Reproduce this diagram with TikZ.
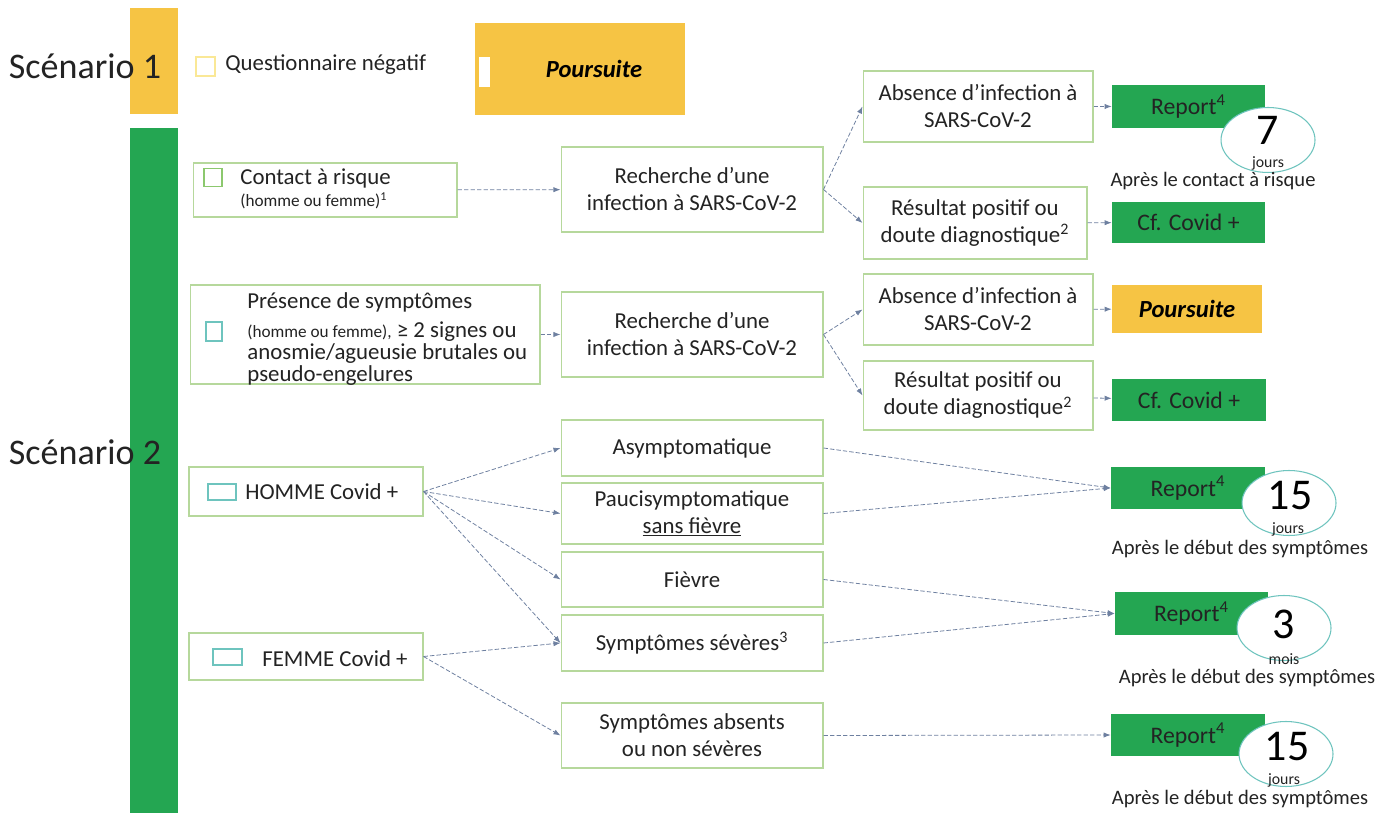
\documentclass[tikz,border=0pt]{standalone}
\usepackage{fontspec}
\setmainfont{Carlito}
\usetikzlibrary{shapes.geometric,arrows.meta}
\definecolor{jaune}{RGB}{246,196,68}
\definecolor{vert}{RGB}{36,166,82}
\definecolor{bordvert}{RGB}{182,216,156}
\definecolor{fleche}{RGB}{110,128,160}
\definecolor{sarcelle}{RGB}{110,196,190}
\definecolor{cochejaune}{RGB}{250,232,150}
\definecolor{cocheverte}{RGB}{140,200,110}
\definecolor{texte}{RGB}{35,35,35}
\tikzset{
  box/.style={draw=bordvert, fill=white, line width=0.6pt, inner sep=0pt, align=center, text=texte, font=\fontsize{13}{15.4}\selectfont},
  res/.style={fill=vert, inner sep=0pt, text=texte, font=\fontsize{13.5}{15}\selectfont},
  jaunebox/.style={fill=jaune, inner sep=0pt, text=black, font=\fontsize{14}{15}\selectfont\bfseries\itshape},
  coche/.style={draw=#1, line width=0.6pt, fill=white, inner sep=0pt},
  lien/.style={draw=fleche, line width=0.45pt, dash pattern=on 2.5pt off 1.2pt, -{Latex[length=4pt,width=3pt]}},
  delai/.style={ellipse, draw=sarcelle, fill=white, line width=0.6pt, inner sep=0pt, minimum width=1.88cm, minimum height=1.3cm},
  nombre/.style={font=\fontsize{25}{25}\selectfont, text=black, inner sep=0pt},
  unite/.style={font=\fontsize{9}{9}\selectfont, text=texte, inner sep=0pt},
  apres/.style={font=\fontsize{11.7}{12}\selectfont, text=texte, inner sep=0pt},
  scen/.style={font=\fontsize{20.5}{22}\selectfont, text=texte, inner sep=0pt},
  libre/.style={font=\fontsize{13}{15}\selectfont, text=texte, inner sep=0pt, anchor=west}
}
\begin{document}
\begin{tikzpicture}[x=0.02cm,y=-0.02cm]
\useasboundingbox (0,0) rectangle (1392,813);
% bandes des scenarios
\fill[jaune] (130,8) rectangle (178,114);
\fill[vert] (130,128) rectangle (178,813);
\node[scen] (sc1) at (85,66) {Scénario 1};
\node[scen] (sc2) at (85,452) {Scénario 2};

% scenario 1
\node[coche=cochejaune, minimum size=0.38cm] (cq) at (205.5,66.5) {};
\node[libre] (quest) at (225,65) {Questionnaire négatif};
\node[jaunebox, minimum width=4.2cm, minimum height=1.84cm] (pours1) at (580,69) {\hspace*{0.56cm}Poursuite};
\fill[white] (479,57) rectangle (490,87);

% contact a risque
\node[box, minimum width=5.28cm, minimum height=1.08cm] (contact) at (325,190) {};
\node[coche=cocheverte, minimum size=0.36cm] (cc) at (213,177.5) {};
\node[libre] (contact1) at (240,178) {Contact à risque};
\node[libre, font=\fontsize{9.8}{11}\selectfont] (contact2) at (240,201) {(homme ou femme)\textsuperscript{1}};
\node[box, minimum width=5.24cm, minimum height=1.7cm] (rech1) at (692,189.5) {Recherche d’une\\infection à SARS-CoV-2};
\node[box, minimum width=4.6cm, minimum height=1.42cm] (abs1) at (978,106.5) {Absence d’infection à\\SARS-CoV-2};
\node[box, minimum width=4.48cm, minimum height=1.44cm] (pos1) at (975,223) {Résultat positif ou\\doute diagnostique\textsuperscript{2}};
\node[res, minimum width=3.06cm, minimum height=0.86cm] (rep1) at (1188.5,106.5) {Report\textsuperscript{4}};
\node[res, minimum width=3.06cm, minimum height=0.82cm] (cov1) at (1188.5,222.5) {Cf. Covid +};
\node[delai] (el1) at (1268,140) {};
\node[nombre] (n1) at (1268,130) {7};
\node[unite] (u1) at (1268,163) {jours};
\node[apres] (a1) at (1213,181) {Après le contact à risque};

\draw[lien] (contact) -- (rech1);
\draw[lien] (rech1.east) -- (abs1.west);
\draw[lien] (rech1.east) -- (pos1.west);
\draw[lien] (abs1) -- (rep1);
\draw[lien] (pos1) -- (cov1);

% symptomes
\node[box, minimum width=7cm, minimum height=1.98cm] (pres) at (365,334.5) {};
\node[coche=sarcelle, minimum width=0.32cm, minimum height=0.38cm] (cp) at (214,331.5) {};
\node[libre, align=left, font=\fontsize{13}{12.3}\selectfont] (prestexte) at (247,339) {Présence de symptômes\\[4.2pt]{\fontsize{9.8}{11}\selectfont(homme ou femme),} ≥ 2 signes ou\\anosmie/agueusie brutales ou\\pseudo-engelures};
\node[box, minimum width=5.24cm, minimum height=1.7cm] (rech2) at (692,334.5) {Recherche d’une\\infection à SARS-CoV-2};
\node[box, minimum width=4.6cm, minimum height=1.42cm] (abs2) at (978,309.5) {Absence d’infection à\\SARS-CoV-2};
\node[box, minimum width=4.6cm, minimum height=1.38cm] (pos2) at (978,395.5) {Résultat positif ou\\doute diagnostique\textsuperscript{2}};
\node[jaunebox, minimum width=3cm, minimum height=0.96cm] (pours2) at (1187,309) {Poursuite};
\node[res, minimum width=3.08cm, minimum height=0.84cm] (cov2) at (1189,400) {Cf. Covid +};

\draw[lien] (pres) -- (rech2);
\draw[lien] (rech2.east) -- (abs2.west);
\draw[lien] (rech2.east) -- (pos2.west);
\draw[lien] (abs2) -- (pours2);
\draw[lien] (pos2) -- (cov2);

% covid +
\node[box, minimum width=4.68cm, minimum height=0.98cm] (homme) at (306,491.5) {};
\node[coche=sarcelle, minimum width=0.56cm, minimum height=0.32cm] (ch) at (222,492) {};
\node[libre] (hommetexte) at (245,492) {HOMME Covid +};
\node[box, minimum width=4.68cm, minimum height=0.94cm] (femme) at (306,656.5) {};
\node[coche=sarcelle, minimum width=0.58cm, minimum height=0.32cm] (cf) at (227.5,657) {};
\node[libre] (femmetexte) at (262,659) {FEMME Covid +};

\node[box, minimum width=5.24cm, minimum height=1.12cm] (asym) at (692,448) {Asymptomatique};
\node[box, minimum width=5.24cm, minimum height=1.22cm] (pauci) at (692,513.5) {Paucisymptomatique\\\underline{sans fièvre}};
\node[box, minimum width=5.24cm, minimum height=1.1cm] (fievre) at (692,579.5) {Fièvre};
\node[box, minimum width=5.24cm, minimum height=1.12cm] (severe) at (692,643) {Symptômes sévères\textsuperscript{3}};
\node[box, minimum width=5.24cm, minimum height=1.3cm] (absent) at (692,735.5) {Symptômes absents\\ou non sévères};

\node[res, minimum width=3.08cm, minimum height=0.84cm] (rep2) at (1188,488) {Report\textsuperscript{4}};
\node[res, minimum width=3.06cm, minimum height=0.86cm] (rep3) at (1191.5,613.5) {Report\textsuperscript{4}};
\node[res, minimum width=3.08cm, minimum height=0.84cm] (rep4) at (1188,735) {Report\textsuperscript{4}};

\node[delai] (el2) at (1289,503) {};
\node[nombre] (n2) at (1290,496) {15};
\node[unite] (u2) at (1288,529) {jours};
\node[apres] (a2) at (1240,549) {Après le début des symptômes};
\node[delai] (el3) at (1284,628) {};
\node[nombre] (n3) at (1284,624) {3};
\node[unite] (u3) at (1284,659) {mois};
\node[apres] (a3) at (1247,678) {Après le début des symptômes};
\node[delai] (el4) at (1286,754) {};
\node[nombre] (n4) at (1287,747) {15};
\node[unite] (u4) at (1284,780) {jours};
\node[apres] (a4) at (1240,799) {Après le début des symptômes};

\draw[lien] (homme.east) -- (asym.west);
\draw[lien] (homme.east) -- (pauci.west);
\draw[lien] (homme.east) -- (fievre.west);
\draw[lien] (homme.east) -- (severe.west);
\draw[lien] (femme.east) -- (severe.west);
\draw[lien] (femme.east) -- (absent.west);
\draw[lien] (asym.east) -- (rep2.west);
\draw[lien] (pauci.east) -- (rep2.west);
\draw[lien] (fievre.east) -- (rep3.west);
\draw[lien] (severe.east) -- (rep3.west);
\draw[lien] (absent.east) -- (rep4.west);
\end{tikzpicture}
\end{document}
